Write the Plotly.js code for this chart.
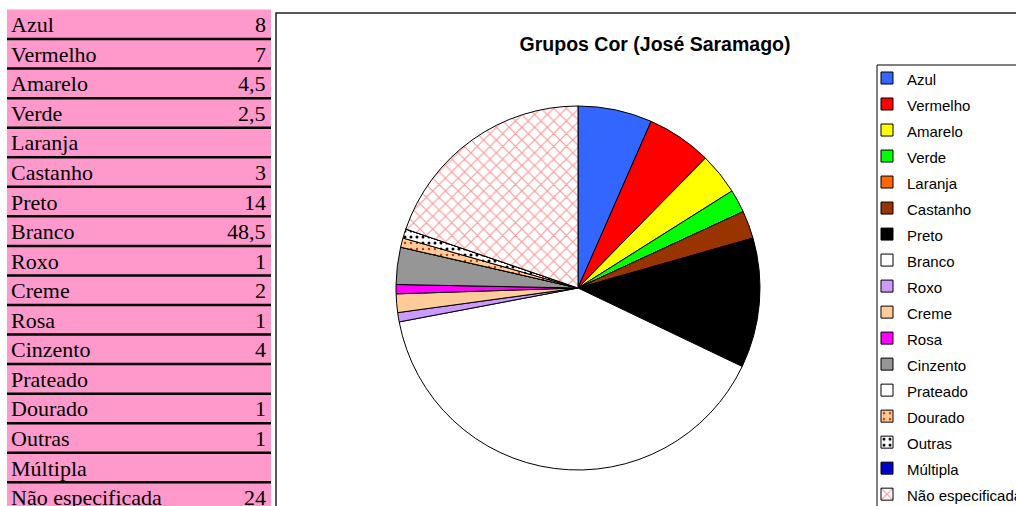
<!DOCTYPE html>
<html>
<head>
<meta charset="utf-8">
<script src="https://cdn.plot.ly/plotly-3.0.1.min.js"></script>
<style>html,body{margin:0;padding:0;background:#fff;}#chart{width:1016px;height:506px;}</style>
</head>
<body>
<div id="chart"></div>
<script>
// ---- data ----
var categories = ['Azul','Vermelho','Amarelo','Verde','Laranja','Castanho','Preto','Branco','Roxo','Creme','Rosa','Cinzento','Prateado','Dourado','Outras','Múltipla','Não especificada'];
var counts = [8, 7, 4.5, 2.5, 0, 3, 14, 48.5, 1, 2, 1, 4, 0, 1, 1, 0, 24];
var sliceColors = ['#3366FF','#FF0000','#FFFF00','#00FF00','#FF6600','#993300','#000000','#FFFFFF','#CC99FF','#FFCC99','#FF00FF','#969696','#FFFFFF','#FFCC99','#FFFFFF','#0000CC','#FFFFFF'];
var chartTitle = 'Grupos Cor (José Saramago)';

// ---- geometry (px) ----
var W = 1016, H = 506;
var tableTop = 9.5, rowH = 29.55, tableLeft = 7, tableRight = 271;
function px(x){return x / W;}
function py(y){return 1 - y / H;}

var tableValues = counts.map(function(v){ return v === 0 ? '' : String(v).replace('.', ','); });

var patternShapes = categories.map(function(c){
  if (c === 'Não especificada') return 'x';
  if (c === 'Outras' || c === 'Dourado') return '.';
  return '';
});
var patternFg = categories.map(function(c){
  if (c === 'Não especificada') return '#FF9999';
  if (c === 'Outras') return '#000000';
  if (c === 'Dourado') return '#CC3300';
  return '#000000';
});
var patternSize = categories.map(function(c){
  if (c === 'Não especificada') return 9;
  return 6;
});
var patternSolidity = categories.map(function(c){
  if (c === 'Não especificada') return 0.25;
  if (c === 'Outras') return 0.2;
  return 0.12;
});

var pie = {
  type: 'pie',
  labels: categories.map(function(c){ return '<span style="font-size:15px">' + c + '</span>'; }),
  values: counts,
  sort: false,
  direction: 'clockwise',
  rotation: 0,
  textinfo: 'none',
  hoverinfo: 'none',
  domain: {x: [px(396), px(760)], y: [py(470), py(106)]},
  marker: {
    colors: sliceColors,
    line: {color: '#000', width: 1},
    pattern: {shape: patternShapes, fgcolor: patternFg, bgcolor: sliceColors, size: patternSize, solidity: patternSolidity, fillmode: 'replace'}
  }
};

// ---- left data table (pink cells, black row rules) ----
var shapes = [];
var annotations = [];
shapes.push({type: 'rect', xref: 'paper', yref: 'paper', x0: px(tableLeft), x1: px(tableRight), y0: py(tableTop), y1: py(530), fillcolor: '#FF99CC', line: {width: 0}, layer: 'below'});
for (var k = 0; k < categories.length; k++) {
  var rowTop = tableTop + k * rowH;
  if (k > 0) {
    shapes.push({type: 'line', xref: 'paper', yref: 'paper', x0: px(tableLeft), x1: px(tableRight), y0: py(rowTop), y1: py(rowTop), line: {color: '#000', width: 2.5}});
  }
  var cy = py(rowTop + rowH / 2 + 0.5);
  annotations.push({xref: 'paper', yref: 'paper', x: px(tableLeft + 2), y: cy, xanchor: 'left', yanchor: 'middle', showarrow: false,
                    text: categories[k], font: {family: 'Liberation Serif', size: 22, color: '#000'}});
  if (tableValues[k] !== '') {
    annotations.push({xref: 'paper', yref: 'paper', x: px(tableRight - 3), y: cy, xanchor: 'right', yanchor: 'middle', showarrow: false,
                      text: tableValues[k], font: {family: 'Liberation Serif', size: 22, color: '#000'}});
  }
}
shapes.push({type: 'rect', xref: 'paper', yref: 'paper', x0: px(276), x1: px(1030), y0: py(13), y1: py(530), line: {color: '#222', width: 1.5}});
shapes.push({type: 'rect', xref: 'paper', yref: 'paper', x0: px(877), x1: px(1030), y0: py(65), y1: py(530), line: {color: '#000', width: 1}});

var layout = {
  width: W, height: H,
  margin: {l: 0, r: 0, t: 0, b: 0, autoexpand: false},
  paper_bgcolor: '#fff',
  showlegend: true,
  title: {text: '<b>' + chartTitle + '</b>', x: px(655), xref: 'paper', y: py(44), yref: 'paper', xanchor: 'center', yanchor: 'middle',
          font: {family: 'Liberation Sans', size: 19.5, color: '#000'}},
  legend: {x: px(867), xanchor: 'left', y: py(60), yanchor: 'top', bgcolor: 'rgba(0,0,0,0)', borderwidth: 0,
           font: {family: 'Liberation Sans', size: 17.7, color: '#000'}, traceorder: 'normal'},
  shapes: shapes,
  annotations: annotations
};

Plotly.newPlot('chart', [pie], layout, {displayModeBar: false, staticPlot: true});
</script>
</body>
</html>
